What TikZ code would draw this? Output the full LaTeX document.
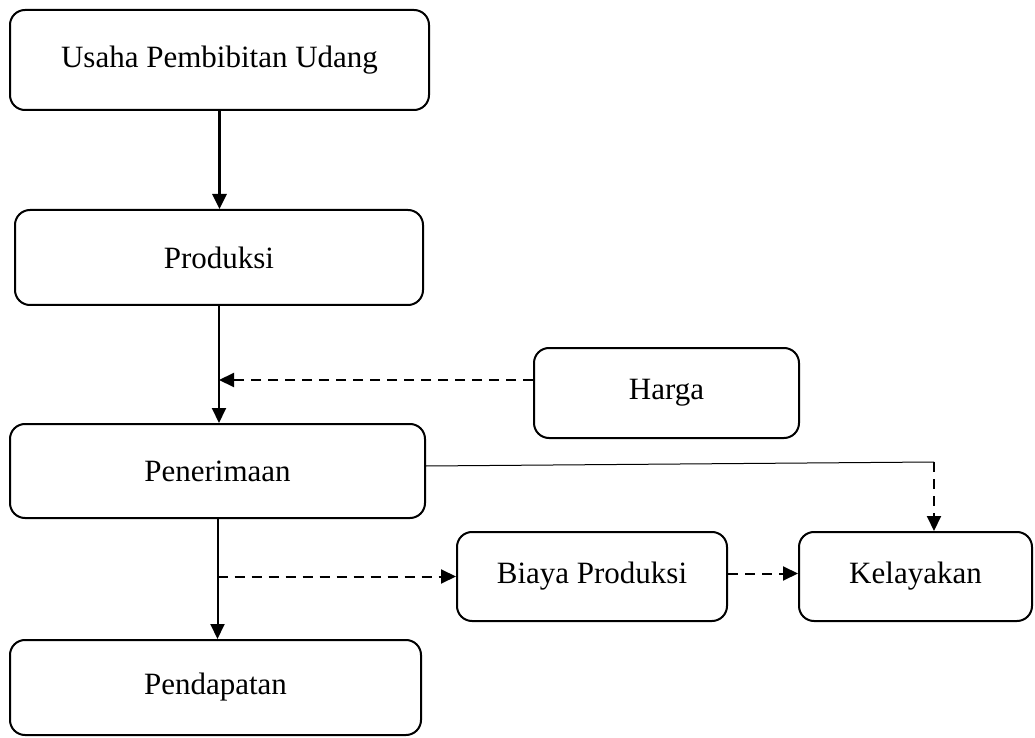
\documentclass[tikz,border=0pt]{standalone}
\usepackage{fontspec}
\setmainfont{Liberation Serif}
\usetikzlibrary{arrows.meta, positioning}

\begin{document}
\begin{tikzpicture}[
  x=0.5pt, y=-0.5pt,
  every node/.style={font=\fontsize{15.5}{18}\selectfont, align=center},
  stage/.style ={rectangle, draw, line width=1pt, rounded corners=7.5pt, inner sep=2pt},
  flow/.style  ={-{Triangle[length=7.5pt, width=7pt]}, line width=1pt},
  dflow/.style ={flow, dash pattern=on 5pt off 3.5pt},
  >=Triangle
]
\useasboundingbox (0,0) rectangle (1035,738);

%% Main column (left)
\node[stage, minimum width=209.5pt, minimum height=50pt] (usaha)  at (219.5,60)  {Usaha Pembibitan Udang};
\node[stage, minimum width=204pt,   minimum height=47.5pt] (prod)  at (219,257.5) {Produksi};
\node[stage, minimum width=207.5pt, minimum height=47pt] (terima) at (217.5,471) {Penerimaan};
\node[stage, minimum width=205.5pt, minimum height=47.5pt] (dapat) at (215.5,687.5) {Pendapatan};

%% Side boxes
\node[stage, minimum width=132.5pt, minimum height=45pt]   (harga) at (666.5,393) {Harga};
\node[stage, minimum width=135pt,   minimum height=44.5pt] (biaya) at (592,576.5) {Biaya Produksi};
\node[stage, minimum width=116.5pt, minimum height=44.5pt] (layak) at (915.5,576.5) {Kelayakan};

\coordinate (turn) at (934,462);

%% Main flow
\draw[flow, line width=1.5pt] (usaha.south) -- (usaha.south |- prod.north);
\draw[flow] (prod.south) -- (prod.south |- terima.north);
\draw[flow] (terima.south) -- (terima.south |- dapat.north);

%% Dashed influences
\draw[dflow] ([yshift=6.5pt]harga.west) -- ([yshift=6.5pt]harga.west -| prod.south);
\draw[dflow] (terima.south |- biaya.west) -- (biaya.west);
\draw[dflow] ([yshift=1.5pt]biaya.east) -- ([yshift=1.5pt]layak.west);

%% Penerimaan to Kelayakan
\draw[line width=0.5pt] ([yshift=2.5pt]terima.east) -- (turn);
\draw[dflow] (turn) -- (turn |- layak.north);

\end{tikzpicture}
\end{document}
